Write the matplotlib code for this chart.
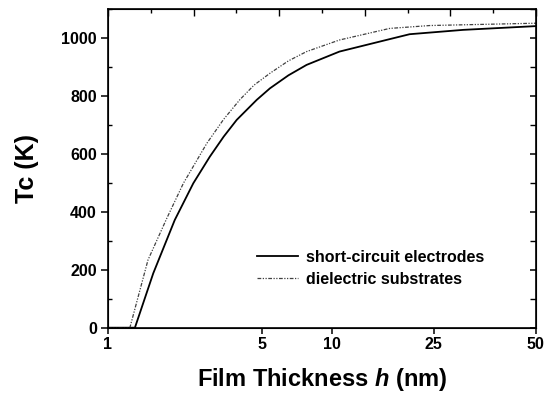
import numpy as np
import matplotlib
matplotlib.use("Agg")
import matplotlib.pyplot as plt
from matplotlib.ticker import FixedLocator, MultipleLocator

# values
short_h = [1.0, 1.326, 1.606, 2.01, 2.44, 2.90, 3.35, 3.84, 4.73, 5.41, 6.5, 7.78, 10.7, 16.8, 20.1, 30.5, 50.0]
short_tc = [0, 0, 188, 372, 499, 591, 660, 718, 787, 827, 872, 908, 954, 997, 1014, 1029, 1042]

diel_h = [1.0, 1.258, 1.52, 1.85, 2.20, 2.81, 3.35, 3.97, 4.6, 5.41, 6.5, 7.78, 10.7, 16.8, 24.1, 50.0]
diel_tc = [0, 0, 234, 378, 499, 637, 720, 788, 838, 879, 922, 954, 994, 1034, 1044, 1052]

x_ticks = [1, 5, 10, 25, 50]
x_labels = ["1", "5", "10", "25", "50"]
# where each labelled thickness sits along the axis (fraction of width)
x_tick_frac = [0.0, 0.36, 0.5234, 0.7617, 1.0]

log_knots = np.log10(x_ticks)


def forward(h):
    h = np.clip(np.asarray(h, dtype=float), 1e-3, None)
    return np.interp(np.log10(h), log_knots, x_tick_frac)


def inverse(f):
    return 10 ** np.interp(f, x_tick_frac, log_knots)


plt.rcParams['font.family'] = ['Liberation Sans', 'DejaVu Sans']
plt.rcParams['font.weight'] = 'bold'
plt.rcParams['mathtext.fontset'] = 'custom'
plt.rcParams['mathtext.it'] = 'Liberation Sans:italic:bold'
plt.rcParams['mathtext.rm'] = 'Liberation Sans:bold'

fig = plt.figure(figsize=(5.45, 3.95), dpi=100)
ax = fig.add_axes([0.198, 0.1704, 0.7853, 0.806])

ax.plot(short_h, short_tc, color='black', lw=1.3, label='short-circuit electrodes')
ax.plot(diel_h, diel_tc, color='0.25', lw=0.9,
        linestyle=(0, (3, 1.2, 1, 1.2, 1, 1.2)), label='dielectric substrates')

ax.set_xscale('function', functions=(forward, inverse))
ax.set_xlim(1, 50)
ax.set_ylim(0, 1100)

ax.xaxis.set_major_locator(FixedLocator(x_ticks))
ax.set_xticklabels(x_labels)
ax.xaxis.set_minor_locator(FixedLocator([]))
ax.yaxis.set_major_locator(MultipleLocator(200))
ax.yaxis.set_minor_locator(MultipleLocator(100))
ax.set_yticks(range(0, 1001, 200))

ax.tick_params(axis='x', which='major', direction='out', length=4, width=1.1,
               labelsize=11.5, pad=3, top=False)
ax.tick_params(axis='y', which='major', direction='out', length=5, width=1.1,
               labelsize=11.5, pad=3)
ax.tick_params(axis='y', which='minor', direction='in', length=3, width=1)
ax.tick_params(axis='y', which='both', right=True)
for t in ax.yaxis.get_major_ticks() + ax.yaxis.get_minor_ticks():
    t.tick2line.set_marker(matplotlib.lines.TICKLEFT)
    t.tick2line.set_markersize(4)

for lab in ax.get_xticklabels() + ax.get_yticklabels():
    lab.set_fontweight('bold')

for s in ax.spines.values():
    s.set_linewidth(1.2)

# evenly spaced ticks along the top edge
top = ax.twiny()
top.set_xlim(0, 1)
top.xaxis.set_major_locator(MultipleLocator(0.2))
top.xaxis.set_minor_locator(MultipleLocator(0.1))
top.tick_params(axis='x', which='major', direction='in', length=5, width=1,
                labeltop=False)
top.tick_params(axis='x', which='minor', direction='in', length=3, width=1)

ax.set_ylabel('Tc (K)', fontsize=18, fontweight='bold', labelpad=16)
ax.set_xlabel('Film Thickness $h$ (nm)', fontsize=17, fontweight='bold',
              labelpad=10)

ax.legend(loc='upper left', bbox_to_anchor=(0.348, 0.245), frameon=False,
          borderpad=0, borderaxespad=0, handlelength=2.6, handletextpad=0.45,
          labelspacing=0.45, prop={'size': 11.5, 'weight': 'bold'})

fig.savefig('out.png', dpi=100)
